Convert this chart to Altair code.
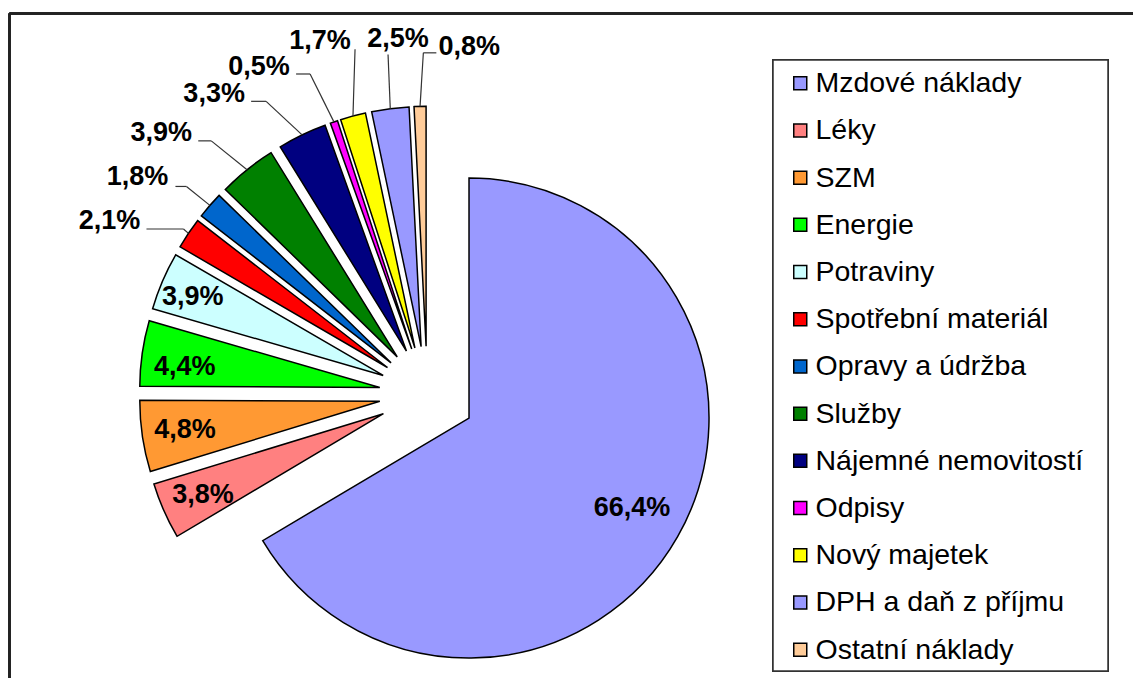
import math
import altair as alt
import pandas as pd

# ---------------- data ----------------
categories = [
    "Mzdové náklady", "Léky", "SZM", "Energie", "Potraviny",
    "Spotřební materiál", "Opravy a údržba", "Služby",
    "Nájemné nemovitostí", "Odpisy", "Nový majetek",
    "DPH a daň z příjmu", "Ostatní náklady",
]
values = [66.4, 3.8, 4.8, 4.4, 3.9, 2.1, 1.8, 3.9, 3.3, 0.5, 1.7, 2.5, 0.8]
colors = [
    "#9999FF", "#FF8080", "#FF9933", "#00FF00", "#CCFFFF",
    "#FF0000", "#0066CC", "#008000", "#000080", "#FF00FF",
    "#FFFF00", "#9999FF", "#FFCC99",
]

# ---------------- layout (annotation placement, not data) ----------------
CX, CY = 419.3, 386.3      # pie centre in view pixels
R = 240                    # pie radius
E = 48                     # explosion distance
label_angle = [119.0, 245.8, 261.6, 276.4, 292.6, 298.6, 306.8, 314.5,
               324.6, 332.8, 343.1, 355.3, 6.9]
label_dist = [234, 246, 245, 244, 254, 362, 362, 373, 368, 368, 369, 357, 350]
has_leader = [0, 0, 0, 0, 0, 1, 1, 1, 1, 1, 1, 1, 1]
attach_dx = [0, 0, 0, 0, 0, 37, 38, 37, 37, 37, 35, -10, -33]
attach_dy = [0, 0, 0, 0, 0, 8, 9, 8, 7, 7, 8, 16, 6]
elbow_dx = [0, 0, 0, 0, 0, 74, 49, 50, 52, 51, 35, -10, -46]

df = pd.DataFrame({
    "cat": categories,
    "value": values,
    "order": list(range(len(categories))),
    "lang": label_angle,
    "ldist": label_dist,
    "lead": has_leader,
    "adx": attach_dx,
    "ady": attach_dy,
    "edx": elbow_dx,
})

FONT = "Liberation Sans"

base = alt.Chart(df).transform_joinaggregate(
    total="sum(value)"
).transform_window(
    cum="sum(value)", sort=[alt.SortField("order", order="ascending")], frame=[None, 0]
).transform_calculate(
    t0="(datum.cum - datum.value) / datum.total",
    t1="datum.cum / datum.total",
    mid="2 * PI * (datum.cum - datum.value / 2) / datum.total",
).transform_calculate(
    cx=f"{CX} + {E} * sin(datum.mid)",
    cy=f"{CY} - {E} * cos(datum.mid)",
    lx=f"{CX} + datum.ldist * sin(datum.lang * PI / 180)",
    ly=f"{CY} - datum.ldist * cos(datum.lang * PI / 180)",
    px=f"{CX} + {R + E} * sin(datum.mid)",
    py=f"{CY} - {R + E} * cos(datum.mid)",
    label="replace(format(datum.value, '.1f'), '.', ',') + '%'",
).transform_calculate(
    ax="datum.lx + datum.adx",
    ay="datum.ly + datum.ady",
    ex="datum.lx + datum.edx",
)

legend_box = alt.Chart(df).mark_rect(
    fill="white", stroke="#333333", strokeWidth=1.5
).encode(
    x=alt.value(765), x2=alt.value(1100), y=alt.value(52), y2=alt.value(663)
)

border_top = alt.Chart(df).mark_rule(color="#222222", strokeWidth=1.5).encode(
    x=alt.value(1.5), x2=alt.value(1125), y=alt.value(5.5)
)
border_left = alt.Chart(df).mark_rule(color="#222222", strokeWidth=1.5).encode(
    x=alt.value(1.5), y=alt.value(5.5), y2=alt.value(670)
)

arcs = base.mark_arc(radius=R, stroke="black", strokeWidth=1.5, strokeJoin="miter").encode(
    x=alt.X("cx:Q", scale=None, axis=None),
    y=alt.Y("cy:Q", scale=None, axis=None),
    theta=alt.Theta("t0:Q", scale=alt.Scale(domain=[0, 1], range=[0, 2 * math.pi])),
    theta2=alt.Theta2("t1:Q"),
    color=alt.Color(
        "cat:N",
        sort=categories,
        scale=alt.Scale(domain=categories, range=colors),
        legend=alt.Legend(
            title=None, orient="none", legendX=778, legendY=61, padding=0,
            symbolType="square", symbolSize=169, symbolStrokeColor="black",
            symbolStrokeWidth=1.5, symbolOpacity=1,
            labelFont=FONT, labelFontSize=28.5, labelColor="black",
            labelOffset=1, labelLimit=500, rowPadding=18.2,
        ),
    ),
    order=alt.Order("order:Q"),
)

lead1 = base.transform_filter("datum.lead == 1").mark_rule(
    color="#333333", strokeWidth=1.2
).encode(
    x=alt.X("ax:Q", scale=None, axis=None),
    y=alt.Y("ay:Q", scale=None, axis=None),
    x2="ex:Q", y2="ay:Q",
)
lead2 = base.transform_filter("datum.lead == 1").mark_rule(
    color="#333333", strokeWidth=1.2
).encode(
    x=alt.X("ex:Q", scale=None, axis=None),
    y=alt.Y("ay:Q", scale=None, axis=None),
    x2="px:Q", y2="py:Q",
)

labels = base.mark_text(
    font=FONT, fontSize=27, fontWeight="bold", color="black",
    align="center", baseline="middle",
).encode(
    x=alt.X("lx:Q", scale=None, axis=None),
    y=alt.Y("ly:Q", scale=None, axis=None),
    text="label:N",
)

chart = alt.layer(
    border_top, border_left, legend_box, arcs, lead1, lead2, labels
).properties(
    width=1125, height=670,
    autosize=alt.AutoSizeParams(type="none"),
    padding=0,
    background="white",
).configure_view(stroke=None)

chart.save("out.html", embed_options={"renderer": "svg", "actions": False})
